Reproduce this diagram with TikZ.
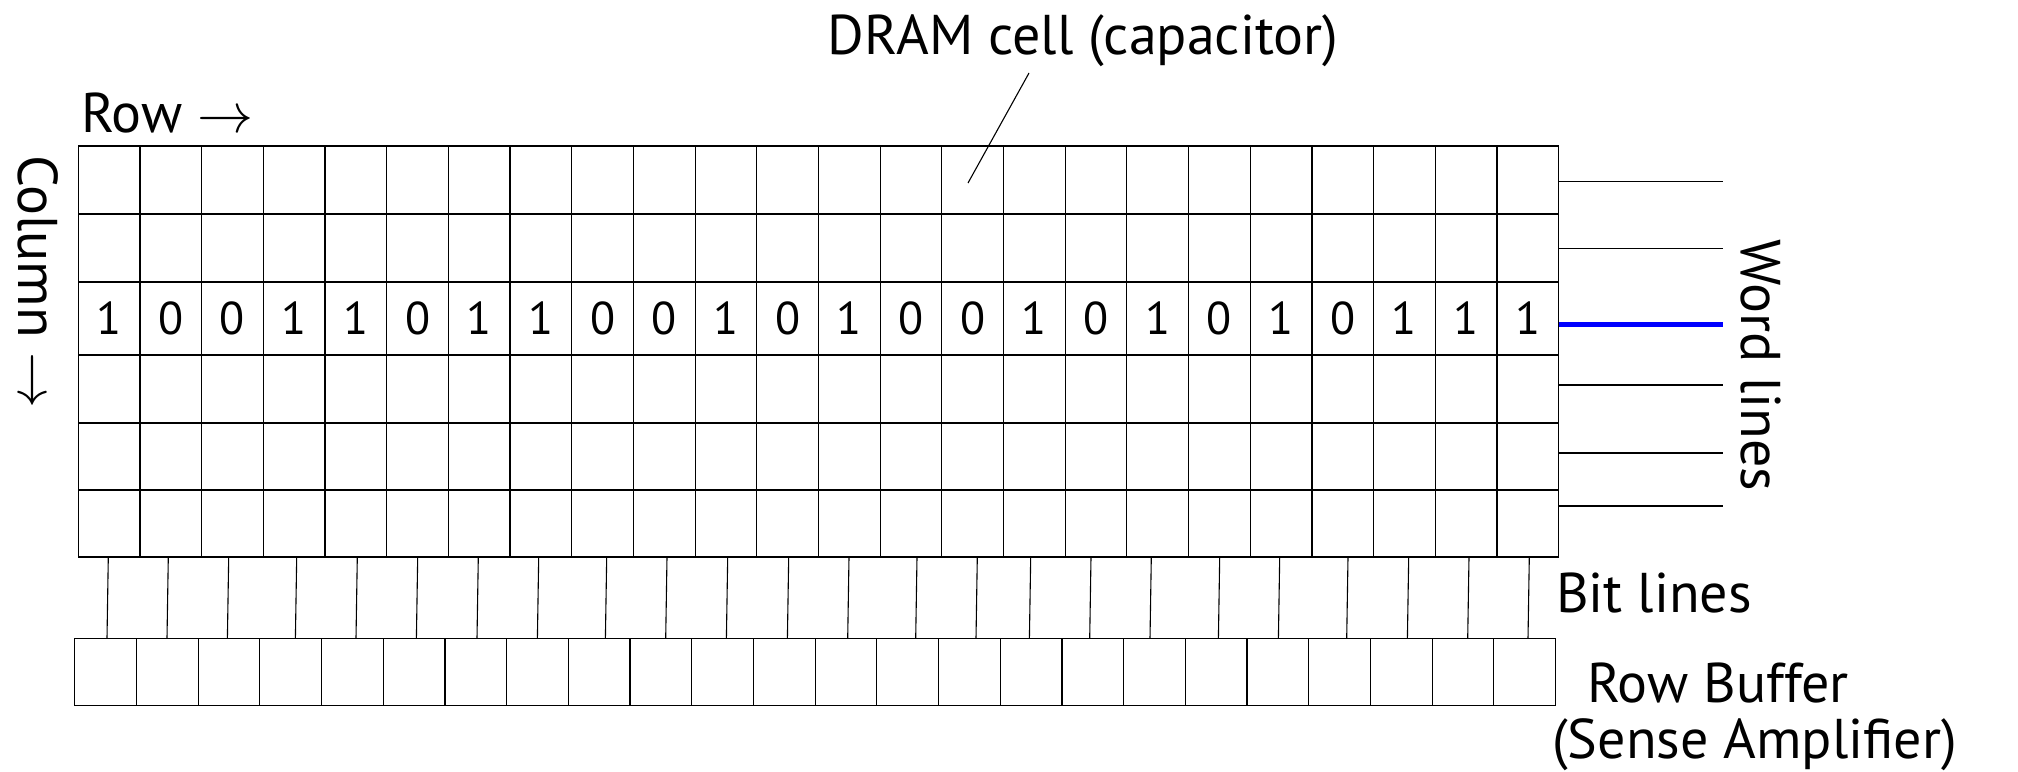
\RequirePackage{fix-cm}
\documentclass[tikz,border=0pt]{standalone}
\usepackage{fontspec}
\setmainfont{PT Sans}
\begin{document}
\begin{tikzpicture}[x=1pt,y=-1pt,
  gridline/.style={line width=1.2pt, black},
  thinline/.style={line width=1.1pt, black},
  wordline/.style={line width=1.1pt, black},
  selline/.style={line width=4.5pt, blue},
  lbl/.style={font=\fontsize{56}{60}\selectfont, inner sep=0pt},
  digit/.style={font=\fontsize{46}{50}\selectfont, inner sep=0pt}]
\useasboundingbox (0,0) rectangle (2018,771);
% cell array
\foreach \i in {0,...,24}
  \draw[gridline] ({78.3+\i*61.68},146) -- ({78.3+\i*61.68},557);
\foreach \y in {146,214,282,355,423,490,557}
  \draw[gridline] (78.3,\y) -- (1558.6,\y);
% stored bits
\foreach \d [count=\i from 0] in {1,0,0,1,1,0,1,1,0,0,1,0,1,0,0,1,0,1,0,1,0,1,1,1}
  \node[digit] (d\i) at ({78.3+(\i+0.5)*61.68},318.5) {\d};
% bit lines
\foreach \t [count=\i] in {108.3,168.3,228.7,296.7,357.3,417.7,478.3,538.7,606.7,667,727.7,788.7,849,917,977.3,1030.7,1091,1151.3,1219.7,1279.7,1348,1408.7,1469,1529.3}{
  \coordinate (bt\i) at (\t,557);
  \coordinate (bb\i) at ({\t-1.3},638.3);
  \draw[thinline] (bt\i) -- (bb\i);
}
% row buffer
\foreach \i in {0,...,24}
  \draw[gridline] ({74.7+\i*61.7},638.3) -- ({74.7+\i*61.7},705.7);
\foreach \y in {638.3,705.7}
  \draw[gridline] (74.7,\y) -- (1555.5,\y);
% word lines
\foreach \y [count=\i] in {181.5,248.5,385,453,506}{
  \coordinate (wa\i) at (1558.6,\y);
  \coordinate (wb\i) at (1723,\y);
  \draw[wordline] (wa\i) -- (wb\i);
}
\coordinate (wsa) at (1558.6,324.5);
\coordinate (wsb) at (1723,324.5);
\draw[selline] (wsa) -- (wsb);
% labels
\node[lbl, anchor=base] (dram) at (1083,54) {DRAM cell (capacitor)};
\coordinate (ptrA) at (1029,73);
\coordinate (ptrB) at (968,183);
\draw[thinline] (ptrA) -- (ptrB);
\node[lbl, anchor=base west] (rowlbl) at (81,132) {Row $\rightarrow$};
\node[lbl, anchor=base west, rotate=-90] (collbl) at (18,155) {Column $\rightarrow$};
\node[lbl, anchor=base west, rotate=-90] (wordlbl) at (1741,239) {Word lines};
\node[lbl, anchor=base west] (bitlbl) at (1556,612) {Bit lines};
\node[lbl, anchor=base west] (buflbl) at (1587,702) {Row Buffer};
\node[lbl, anchor=base west] (amplbl) at (1552,758) {(Sense Amplifier)};
\end{tikzpicture}
\end{document}
